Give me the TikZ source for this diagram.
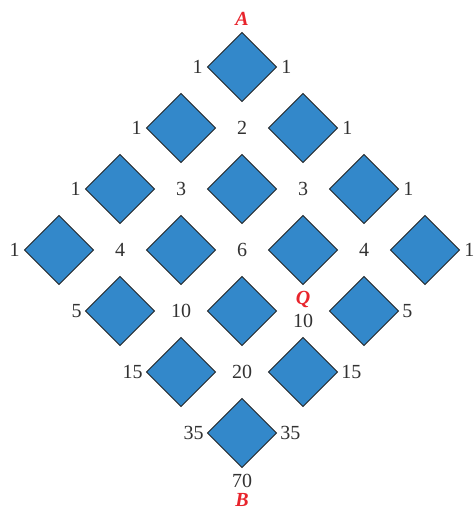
\documentclass[tikz,border=0pt]{standalone}
\usepackage{fontspec}
\setmainfont{Liberation Serif}
\usetikzlibrary{shapes.geometric,calc}
\definecolor{dfill}{RGB}{51,136,202}
\definecolor{lblc}{RGB}{50,50,50}
\definecolor{ptred}{RGB}{232,36,44}
\begin{document}
\begin{tikzpicture}[x=1pt,y=-1pt,
  block/.style={diamond, draw=black!85, line width=0.9pt, fill=dfill,
    minimum width=69.5pt, minimum height=69.5pt, inner sep=0pt, aspect=1},
  num/.style={text=lblc, inner sep=0pt, text height=13.6pt, text depth=0pt,
    font=\fontsize{20}{24}\selectfont},
  pt/.style={text=ptred, inner sep=0pt, text height=13.4pt, text depth=0pt,
    font=\fontsize{20}{24}\selectfont\bfseries\itshape}]
\useasboundingbox (0,0) rectangle (475,508);
% diamonds
\node[block] (d1)  at (242,67) {};
\node[block] (d2)  at (181,128) {};
\node[block] (d3)  at (303,128) {};
\node[block] (d4)  at (120,189) {};
\node[block] (d5)  at (242,189) {};
\node[block] (d6)  at (364,189) {};
\node[block] (d7)  at (59,250) {};
\node[block] (d8)  at (181,250) {};
\node[block] (d9)  at (303,250) {};
\node[block] (d10) at (425,250) {};
\node[block] (d11) at (120,311) {};
\node[block] (d12) at (242,311) {};
\node[block] (d13) at (364,311) {};
\node[block] (d14) at (181,372) {};
\node[block] (d15) at (303,372) {};
\node[block] (d16) at (242,433) {};
% outer labels
\node[num, anchor=east] (l1)  at ([xshift=-4pt]d1.west) {1};
\node[num, anchor=west] (r1)  at ([xshift=4pt]d1.east) {1};
\node[num, anchor=east] (l2)  at ([xshift=-4pt]d2.west) {1};
\node[num, anchor=west] (r2)  at ([xshift=4pt]d3.east) {1};
\node[num, anchor=east] (l3)  at ([xshift=-4pt]d4.west) {1};
\node[num, anchor=west] (r3)  at ([xshift=4pt]d6.east) {1};
\node[num, anchor=east] (l4)  at ([xshift=-4pt]d7.west) {1};
\node[num, anchor=west] (r4)  at ([xshift=4pt]d10.east) {1};
\node[num, anchor=east] (l5)  at ([xshift=-3pt]d11.west) {5};
\node[num, anchor=west] (r5)  at ([xshift=3pt]d13.east) {5};
\node[num, anchor=east] (l6)  at ([xshift=-3pt]d14.west) {15};
\node[num, anchor=west] (r6)  at ([xshift=3pt]d15.east) {15};
\node[num, anchor=east] (l7)  at ([xshift=-3pt]d16.west) {35};
\node[num, anchor=west] (r7)  at ([xshift=3pt]d16.east) {35};
\node[num, anchor=north] (n70) at ([yshift=-5pt]d16.south) {70};
\node[pt, anchor=base] (B) at ([yshift=-19pt]n70.south) {B};
\node[pt, anchor=south] (A) at ([yshift=6pt]d1.north) {A};
% inner labels
\node[num] (n2)  at ($(d2)!0.5!(d3)$) {2};
\node[num] (n3a) at ($(d4)!0.5!(d5)$) {3};
\node[num] (n3b) at ($(d5)!0.5!(d6)$) {3};
\node[num] (n4a) at ($(d7)!0.5!(d8)$) {4};
\node[num] (n6)  at ($(d8)!0.5!(d9)$) {6};
\node[num] (n4b) at ($(d9)!0.5!(d10)$) {4};
\node[num] (n10a) at ($(d11)!0.5!(d12)$) {10};
\node[num] (n10b) at ([yshift=-9.5pt]$(d12)!0.5!(d13)$) {10};
\node[pt] (Q) at ([yshift=13pt]$(d12)!0.5!(d13)$) {Q};
\node[num] (n20) at ($(d14)!0.5!(d15)$) {20};
\end{tikzpicture}
\end{document}
